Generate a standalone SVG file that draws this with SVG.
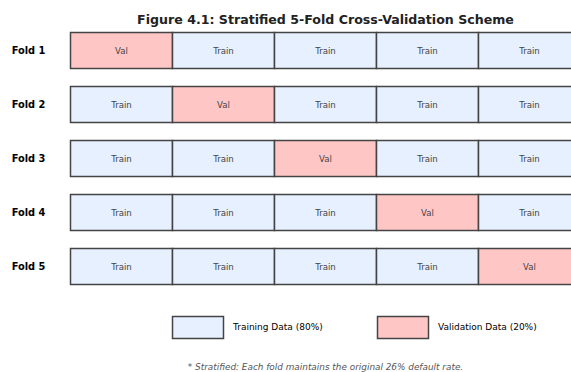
<svg xmlns="http://www.w3.org/2000/svg" width="571" height="372" viewBox="0 0 571 372">
<style>
.t{font-family:"DejaVu Sans",sans-serif;fill:#222;font-weight:bold;font-size:12.6px;text-anchor:middle}
.f{font-family:"DejaVu Sans",sans-serif;fill:#000;font-weight:bold;font-size:9.8px;text-anchor:middle}
.c{font-family:"DejaVu Sans",sans-serif;fill:#444;font-size:8.6px;text-anchor:middle}
.l{font-family:"DejaVu Sans",sans-serif;fill:#000;font-size:9px}
.n{font-family:"DejaVu Sans",sans-serif;fill:#555;font-size:8.9px;font-style:italic;text-anchor:middle}
.tr{fill:#e6f0ff;stroke:#444;stroke-width:1.5}
.va{fill:#ffc6c6;stroke:#444;stroke-width:1.5}
</style>
<rect width="571" height="372" fill="#fff"/>
<text class="t" x="325.5" y="24">Figure 4.1: Stratified 5-Fold Cross-Validation Scheme</text>
<g id="fold1">
<text class="f" x="28.5" y="53.5">Fold 1</text>
<rect class="va" x="70.5" y="32.5" width="102" height="36"/><text class="c" x="121.5" y="53.5">Val</text>
<rect class="tr" x="172.5" y="32.5" width="102" height="36"/><text class="c" x="223.5" y="53.5">Train</text>
<rect class="tr" x="274.5" y="32.5" width="102" height="36"/><text class="c" x="325.5" y="53.5">Train</text>
<rect class="tr" x="376.5" y="32.5" width="102" height="36"/><text class="c" x="427.5" y="53.5">Train</text>
<rect class="tr" x="478.5" y="32.5" width="102" height="36"/><text class="c" x="529.5" y="53.5">Train</text>
</g>
<g id="fold2">
<text class="f" x="28.5" y="107.5">Fold 2</text>
<rect class="tr" x="70.5" y="86.5" width="102" height="36"/><text class="c" x="121.5" y="107.5">Train</text>
<rect class="va" x="172.5" y="86.5" width="102" height="36"/><text class="c" x="223.5" y="107.5">Val</text>
<rect class="tr" x="274.5" y="86.5" width="102" height="36"/><text class="c" x="325.5" y="107.5">Train</text>
<rect class="tr" x="376.5" y="86.5" width="102" height="36"/><text class="c" x="427.5" y="107.5">Train</text>
<rect class="tr" x="478.5" y="86.5" width="102" height="36"/><text class="c" x="529.5" y="107.5">Train</text>
</g>
<g id="fold3">
<text class="f" x="28.5" y="161.5">Fold 3</text>
<rect class="tr" x="70.5" y="140.5" width="102" height="36"/><text class="c" x="121.5" y="161.5">Train</text>
<rect class="tr" x="172.5" y="140.5" width="102" height="36"/><text class="c" x="223.5" y="161.5">Train</text>
<rect class="va" x="274.5" y="140.5" width="102" height="36"/><text class="c" x="325.5" y="161.5">Val</text>
<rect class="tr" x="376.5" y="140.5" width="102" height="36"/><text class="c" x="427.5" y="161.5">Train</text>
<rect class="tr" x="478.5" y="140.5" width="102" height="36"/><text class="c" x="529.5" y="161.5">Train</text>
</g>
<g id="fold4">
<text class="f" x="28.5" y="215.5">Fold 4</text>
<rect class="tr" x="70.5" y="194.5" width="102" height="36"/><text class="c" x="121.5" y="215.5">Train</text>
<rect class="tr" x="172.5" y="194.5" width="102" height="36"/><text class="c" x="223.5" y="215.5">Train</text>
<rect class="tr" x="274.5" y="194.5" width="102" height="36"/><text class="c" x="325.5" y="215.5">Train</text>
<rect class="va" x="376.5" y="194.5" width="102" height="36"/><text class="c" x="427.5" y="215.5">Val</text>
<rect class="tr" x="478.5" y="194.5" width="102" height="36"/><text class="c" x="529.5" y="215.5">Train</text>
</g>
<g id="fold5">
<text class="f" x="28.5" y="269.5">Fold 5</text>
<rect class="tr" x="70.5" y="248.5" width="102" height="36"/><text class="c" x="121.5" y="269.5">Train</text>
<rect class="tr" x="172.5" y="248.5" width="102" height="36"/><text class="c" x="223.5" y="269.5">Train</text>
<rect class="tr" x="274.5" y="248.5" width="102" height="36"/><text class="c" x="325.5" y="269.5">Train</text>
<rect class="tr" x="376.5" y="248.5" width="102" height="36"/><text class="c" x="427.5" y="269.5">Train</text>
<rect class="va" x="478.5" y="248.5" width="102" height="36"/><text class="c" x="529.5" y="269.5">Val</text>
</g>
<g id="connectors"></g>
<g id="legend">
<rect class="tr" x="172.5" y="316.5" width="51" height="22" stroke-width="1"/>
<text class="l" x="233" y="330">Training Data (80%)</text>
<rect class="va" x="377.5" y="316.5" width="51" height="22" stroke-width="1"/>
<text class="l" x="438" y="330">Validation Data (20%)</text>
</g>
<text class="n" x="325.5" y="370">* Stratified: Each fold maintains the original 26% default rate.</text>
</svg>
